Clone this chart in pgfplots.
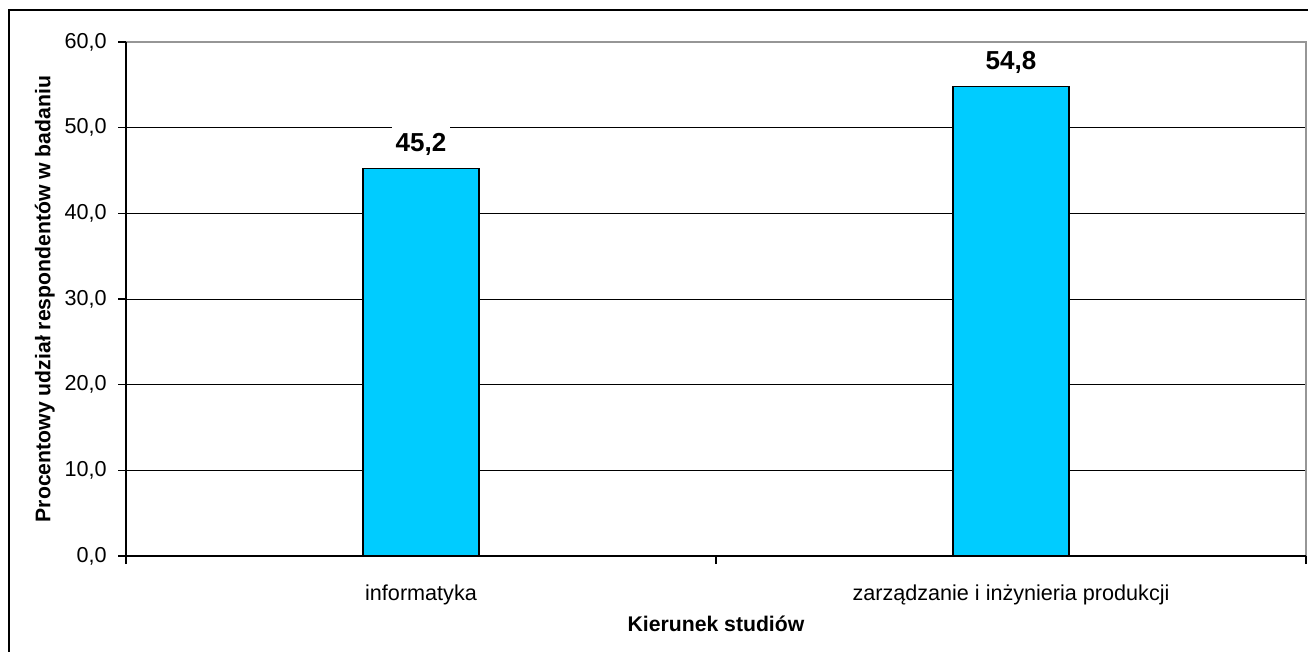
\documentclass[border=0pt]{standalone}
\usepackage{pgfplots}
\pgfplotsset{compat=1.18}
\usepackage{fontspec}
\setmainfont{Liberation Sans}

\definecolor{barcyan}{RGB}{0,204,255}
\definecolor{framegray}{RGB}{150,150,150}

\begin{document}
\begin{tikzpicture}
% whole picture: 1308x652 px at 0.5pt per px
\useasboundingbox (0,0) rectangle (654pt,-326pt);
\draw[line width=1pt] (4.25pt,-330pt) -- (4.25pt,-5pt) -- (660pt,-5pt);
\begin{axis}[
    at={(63pt,-278pt)}, anchor=south west,
    scale only axis,
    width=590pt, height=257pt,
    xmin=-0.5, xmax=1.5,
    ymin=0, ymax=60,
    ytick={0,10,...,60},
    xtick={0,1},
    xticklabels={informatyka, zarządzanie i inżynieria produkcji},
    minor xtick={-0.5,0.5,1.5},
    tick align=outside,
    major tick length=4pt,
    minor tick length=4pt,
    x tick style={draw=none},
    minor x tick style={draw=black, line width=0.6pt},
    y tick style={black, line width=0.6pt},
    xtick pos=bottom, ytick pos=left,
    ymajorgrids,
    grid style={black, line width=0.5pt},
    axis line style={draw=none},
    /pgf/number format/assume math mode=true,
    yticklabel={\pgfmathprintnumber[fixed,fixed zerofill,precision=1,use comma]{\tick}},
    tick label style={font=\fontsize{10.8}{12}\selectfont},
    yticklabel style={anchor=east, inner sep=0pt, xshift=-5.5pt},
    xticklabel style={anchor=base, inner sep=0pt, yshift=-18pt},
    xlabel={Kierunek studiów},
    ylabel={Procentowy udział respondentów w badaniu},
    label style={font=\bfseries\fontsize{10.6}{12}\selectfont},
    xlabel style={at={(axis description cs:0.5,-0.146)}, anchor=base, inner sep=0pt},
    ylabel style={at={(axis description cs:-0.064,0.5)}, anchor=base, inner sep=0pt},
    ybar, bar width=58pt,
    nodes near coords={\pgfmathprintnumber[fixed,fixed zerofill,precision=1,use comma]{\pgfplotspointmeta}},
    every node near coord/.append style={font=\bfseries\fontsize{13}{15}\selectfont,
        anchor=base, fill=white, inner xsep=2pt, inner ysep=5pt, yshift=8.5pt},
    clip=false,
    after end axis/.code={
        \draw[framegray, line width=0.8pt] (rel axis cs:0,1) -- (rel axis cs:1,1) -- (rel axis cs:1,0);
        \draw[black, line width=0.8pt] (rel axis cs:0,1) -- (rel axis cs:0,0) -- (rel axis cs:1,0);
    },
]
\addplot[fill=barcyan, draw=black, line width=0.6pt, bar shift=0pt]
    coordinates {(0,45.2) (1,54.8)};
\end{axis}
\end{tikzpicture}
\end{document}
